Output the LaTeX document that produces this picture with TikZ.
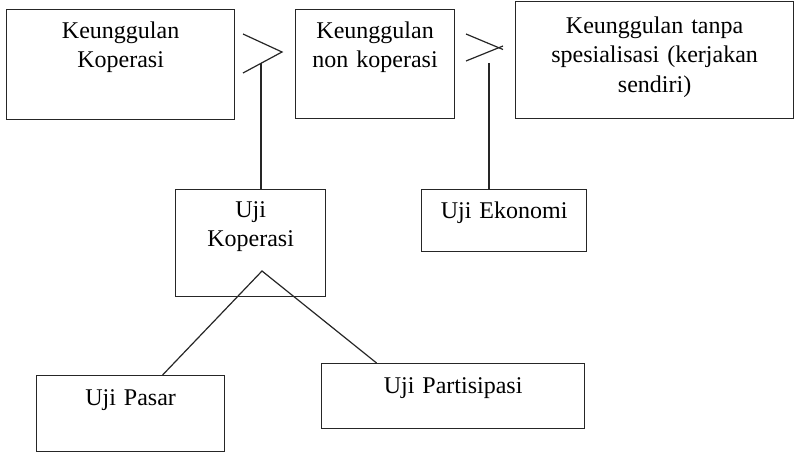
\documentclass[tikz,border=0pt]{standalone}
\usepackage{fontspec}
\setmainfont{Liberation Serif}
\usetikzlibrary{positioning, calc}

\begin{document}
\begin{tikzpicture}[
  x=0.75pt, y=-0.75pt,
  font=\fontsize{18}{22}\selectfont,
  kotak/.style={draw=black!85, line width=0.9pt, anchor=north west, align=center,
                inner sep=0pt, text height=21.75pt},
  garis/.style={draw=black!85, line width=0.9pt}
]
\useasboundingbox (0,0) rectangle (796,453);

% ---------- Baris atas: perbandingan keunggulan ----------
\node[kotak, text width=171pt, text depth=60.75pt] (kop) at (6,9) {Keunggulan\\ Koperasi};
\node[kotak, text width=119.25pt, text depth=60pt] (nonkop) at (295,9) {Keunggulan\\ non koperasi};
\node[kotak, text width=208.5pt, text height=24pt, text depth=63.75pt] (tanpa) at (515,1) {Keunggulan tanpa\\ spesialisasi (kerjakan\\ sendiri)};

% ---------- Tanda lebih besar ----------
\coordinate (a1) at (243,34);
\coordinate (a2) at (282,52);
\coordinate (a3) at (243,73);
\coordinate (t1) at (261,63);
\coordinate (b1) at (466,34);
\coordinate (b2) at (503,49.5);
\coordinate (b3) at (466,61);
\coordinate (b4) at (503,46);
\coordinate (t2) at (489,63);
\draw[garis] (a1) -- (a2) -- (a3);
\draw[garis] (b1) -- (b2);
\draw[garis] (b3) -- (b4);

% ---------- Uji ----------
\node[kotak, text width=112.5pt, text height=21pt, text depth=59.25pt] (ujikop) at (175,189) {Uji\\ Koperasi};
\node[kotak, text width=123.75pt, text depth=24.75pt] (ujieko) at (421,189) {Uji Ekonomi};
\node[kotak, text width=141pt, text height=22.5pt, text depth=34.5pt] (pasar) at (36,375) {Uji Pasar};
\node[kotak, text width=197.25pt, text height=22.5pt, text depth=26.25pt] (partisipasi) at (321,363) {Uji Partisipasi};

% ---------- Garis penghubung ----------
\coordinate (puncak) at (262,271);
\draw[garis] (t1) -- (t1 |- ujikop.north);
\draw[garis] (t2) -- (t2 |- ujieko.north);
\draw[garis] ([xshift=24pt]pasar.north) -- (puncak) -- ([xshift=-57.4pt]partisipasi.north);

\end{tikzpicture}
\end{document}
